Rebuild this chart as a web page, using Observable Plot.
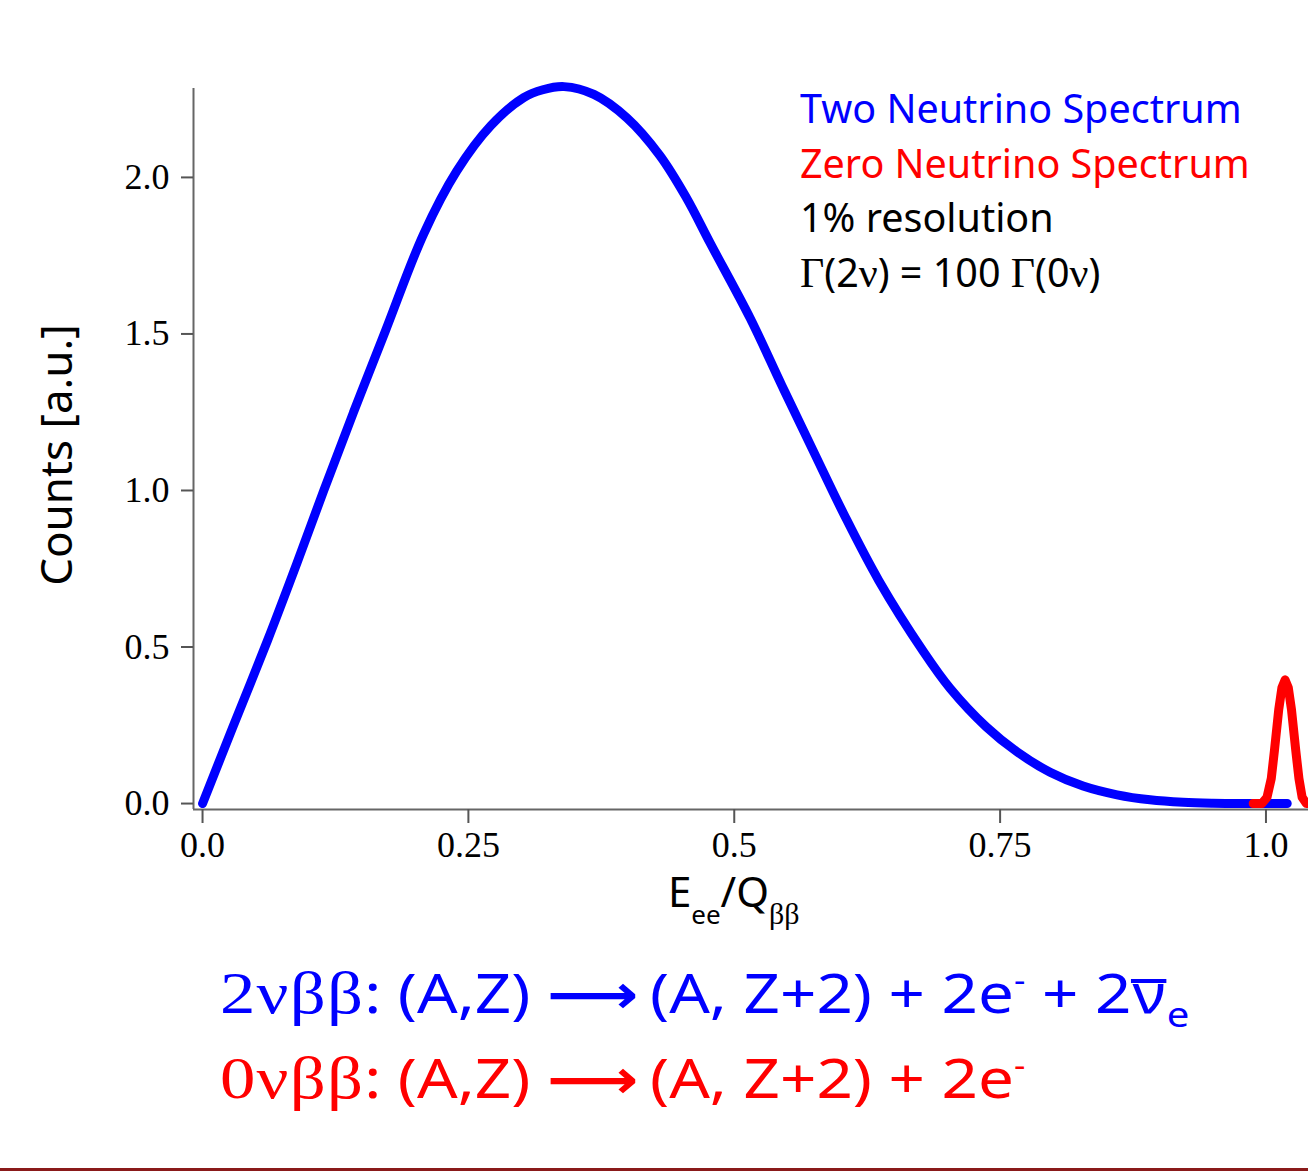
<!DOCTYPE html>
<html><head><meta charset="utf-8">
<script src="https://cdn.jsdelivr.net/npm/d3@7"></script>
<script src="https://cdn.jsdelivr.net/npm/@observablehq/plot@0.6"></script>
<style>
body{margin:0;background:#fff;width:1308px;height:1174px;overflow:hidden;}
#chart svg{display:block}
#caption{position:relative;height:234px;width:1308px;}
.eq{position:absolute;left:220px;white-space:nowrap;font-family:"Noto Sans";font-size:54px;line-height:60px;transform:scaleX(1.18);transform-origin:0 0;}
.serif{font-family:"Liberation Serif";font-size:60px;letter-spacing:1px;}
.arrow{font-family:"DejaVu Sans";font-weight:bold;margin-right:10px;}
.sup{position:relative;top:-22px;font-size:30px;}
.sub{position:relative;top:14px;font-size:34px;}
.bar{display:inline-block;line-height:0.35em;border-top:4px solid currentColor;padding:0 1px;}
#rule{position:absolute;left:0;top:228px;width:1308px;height:3px;background:#8a1a1a;}
</style></head><body>
<div id="chart"></div>
<div id="caption">
  <div class="eq" style="top:22px;color:#0000ff"><span class="serif">2νββ</span>: (A,Z) <span class="arrow">⟶</span>(A, Z+2) + 2e<span class="sup">-</span> + 2<span class="bar">ν</span><span class="sub">e</span></div>
  <div class="eq" style="top:107px;color:#ff0000"><span class="serif">0νββ</span>: (A,Z) <span class="arrow">⟶</span>(A, Z+2) + 2e<span class="sup">-</span></div>
  <div id="rule"></div>
</div>
<script>
// Two-neutrino spectrum (blue)
const twoNuX = [0, 0.028, 0.061, 0.089, 0.114, 0.142, 0.172, 0.208, 0.239, 0.271, 0.302, 0.320, 0.340, 0.368, 0.399, 0.430, 0.455, 0.4774, 0.515, 0.5448, 0.5745, 0.603, 0.636, 0.678, 0.703, 0.737, 0.766, 0.797, 0.828, 0.860, 0.891, 0.922, 0.950, 0.980, 1.000, 1.020];
const twoNuY = [0, 0.240, 0.520, 0.770, 1.000, 1.250, 1.510, 1.820, 2.020, 2.165, 2.255, 2.280, 2.290, 2.265, 2.190, 2.070, 1.935, 1.790, 1.550, 1.335, 1.125, 0.925, 0.712, 0.485, 0.368, 0.245, 0.165, 0.100, 0.056, 0.028, 0.012, 0.004, 0.001, 0, 0, 0];
// Zero-neutrino peak (red)
const zeroNuX = [0.988, 0.996, 1.001, 1.005, 1.008, 1.012, 1.015, 1.018, 1.021, 1.024, 1.028, 1.031, 1.034, 1.038, 1.040];
const zeroNuY = [0, 0, 0.02, 0.08, 0.17, 0.30, 0.37, 0.395, 0.37, 0.30, 0.17, 0.08, 0.02, 0, 0];

const xTicks = [0, 0.25, 0.5, 0.75, 1.0];
const xTickLabels = ["0.0", "0.25", "0.5", "0.75", "1.0"];
const yTicks = [0, 0.5, 1.0, 1.5, 2.0];
const yTickLabels = ["0.0", "0.5", "1.0", "1.5", "2.0"];
const xDomain = [-0.0085, 1.04];
const yDomain = [-0.019, 2.284];

const legendLines = ["Two Neutrino Spectrum", "Zero Neutrino Spectrum", "1% resolution"];
const legendColors = ["#0000ff", "#ff0000", "#000000"];
const yLabel = "Counts [a.u.]";

const twoNu = twoNuX.map((x, i) => ({x, y: twoNuY[i]}));
const zeroNu = zeroNuX.map((x, i) => ({x, y: zeroNuY[i]}));

const plot = Plot.plot({
  width: 1308, height: 940,
  marginLeft: 193, marginRight: 0, marginTop: 88, marginBottom: 131,
  x: {domain: xDomain},
  y: {domain: yDomain},
  style: {fontFamily: "Liberation Serif", fontSize: "36px", color: "#000", background: "#fff"},
  marks: [
    Plot.ruleY([yDomain[0]], {stroke: "#666", strokeWidth: 2}),
    Plot.ruleX([xDomain[0]], {stroke: "#666", strokeWidth: 2}),
    Plot.axisX({ticks: xTicks, tickFormat: d => xTickLabels[xTicks.indexOf(d)], tickSize: 14, tickPadding: 8, stroke: "#555", strokeWidth: 2, fill: "#000", label: null, fontSize: 36}),
    Plot.axisY({ticks: yTicks, tickFormat: d => yTickLabels[yTicks.indexOf(d)], tickSize: 12, tickPadding: 12, stroke: "#555", strokeWidth: 2, fill: "#000", label: null, fontSize: 36}),
    Plot.line(twoNu, {x: "x", y: "y", stroke: "#0000ff", strokeWidth: 9, curve: "catmull-rom"}),
    Plot.line(zeroNu, {x: "x", y: "y", stroke: "#ff0000", strokeWidth: 9, curve: "linear"})
  ]
});

const svg = d3.select(plot);
const sx = plot.scale("x");

// Y axis label
svg.append("text")
  .attr("transform", "translate(72,455) rotate(-90)")
  .attr("text-anchor", "middle")
  .attr("font-family", "Noto Sans").attr("font-size", 44).attr("fill", "#000")
  .text(yLabel);

// X axis label E_ee / Q_ββ
const xl = svg.append("text")
  .attr("x", sx.apply(0.5)).attr("y", 907)
  .attr("text-anchor", "middle")
  .attr("font-family", "Noto Sans").attr("font-size", 42).attr("fill", "#000");
xl.append("tspan").text("E");
xl.append("tspan").attr("font-size", 26).attr("dy", 17).text("ee");
xl.append("tspan").attr("dy", -17).text("/Q");
xl.append("tspan").attr("font-size", 30).attr("dy", 17).attr("font-family", "Liberation Serif").text("ββ");

// Legend (inside the plot area, top right)
const lg = svg.append("g").attr("font-family", "Noto Sans").attr("font-size", 39.5).attr("text-anchor", "start");
legendLines.forEach((t, i) => {
  lg.append("text").attr("x", 800).attr("y", 123 + i * 54.5).attr("fill", legendColors[i]).text(t);
});
const g4 = lg.append("text").attr("x", 800).attr("y", 123 + 3 * 54.5).attr("fill", "#000");
[["Γ", 1], ["(2", 0], ["ν", 1], [") = 100 ", 0], ["Γ", 1], ["(0", 0], ["ν", 1], [")", 0]].forEach(([t, s]) => {
  const ts = g4.append("tspan").text(t);
  if (s) ts.attr("font-family", "Liberation Serif").attr("font-size", 42);
});

document.getElementById("chart").appendChild(plot);
</script>
</body></html>
